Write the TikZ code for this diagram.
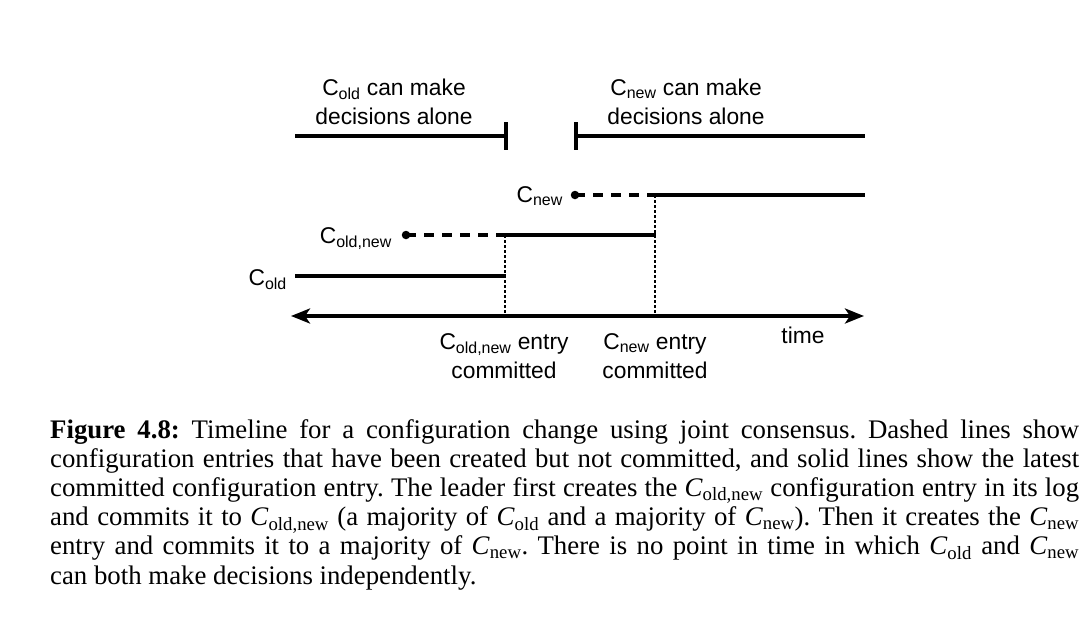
\documentclass[tikz,border=0pt]{standalone}
\usepackage{fontspec}
\usepackage{amsmath}
\setmainfont{Liberation Serif}
\newfontfamily\dsans{Liberation Sans}
\usetikzlibrary{arrows.meta}
\newcommand{\Csub}[1]{C$_{\text{#1}}$}
\newcommand{\Cit}[1]{\textit{C}$_{\text{#1}}$}
\begin{document}
\begin{tikzpicture}[x=1pt,y=-1pt,
  lbl/.style={font=\dsans\fontsize{22.8}{28.5}\selectfont, inner sep=0pt},
  bar/.style={line width=3.3pt},
  dsh/.style={line width=3.3pt, dash pattern=on 10pt off 8pt},
  dtd/.style={line width=2.5pt, dash pattern=on 2.5pt off 2.5pt},
  dotn/.style={circle, fill, inner sep=0pt, minimum size=8.5pt},
  >={Stealth[length=19pt,width=15pt,inset=5pt]},
  ]
\useasboundingbox (0,0) rectangle (1084,632);

% top phase bars (anchor base = last line)
\node[lbl, anchor=base, align=center] (topA) at (394,124) {\Csub{old} can make\\decisions alone};
\node[lbl, anchor=base, align=center] (topB) at (686,124) {\Csub{new} can make\\decisions alone};
\coordinate (a1) at (295,136); \coordinate (a2) at (506,136);
\coordinate (a2t) at (506,122); \coordinate (a2b) at (506,150);
\coordinate (b1) at (576,136); \coordinate (b2) at (865,136);
\coordinate (b1t) at (576,122); \coordinate (b1b) at (576,150);
\draw[bar] (a1) -- (a2);
\draw[bar] (a2t) -- (a2b);
\draw[bar] (b1) -- (b2);
\draw[bar] (b1t) -- (b1b);

% configuration lines
\node[lbl, anchor=base east] (lold) at (287,285) {\Csub{old}};
\node[lbl, anchor=base east] (loldnew) at (392,243) {\Csub{old,new}};
\node[lbl, anchor=base east] (lnew) at (563,202) {\Csub{new}};

\coordinate (o1) at (295,276); \coordinate (o2) at (506,276);
\draw[bar] (o1) -- (o2);

\node[dotn] (don) at (406,235) {};
\coordinate (on1) at (500,235); \coordinate (on2) at (656,235);
\draw[dsh] (don.center) -- (on1);
\draw[bar] (on1) -- (on2);

\node[dotn] (dn) at (575,195) {};
\coordinate (n1) at (650,195); \coordinate (n2) at (865,195);
\draw[dsh] (dn.center) -- (n1);
\draw[bar] (n1) -- (n2);

% time axis
\coordinate (tl) at (291,316); \coordinate (tr) at (864,316);
\draw[line width=3.5pt, <->] (tl) -- (tr);
\coordinate (v1t) at (505,235); \coordinate (v1b) at (505,316);
\coordinate (v2t) at (655,195); \coordinate (v2b) at (655,316);
\draw[dtd] (v1t) -- (v1b);
\draw[dtd] (v2t) -- (v2b);

\node[lbl, anchor=base] (ltime) at (803,343) {time};
\node[lbl, anchor=base, align=center] (cmA) at (504,378) {\Csub{old,new} entry\\committed};
\node[lbl, anchor=base, align=center] (cmB) at (655,378) {\Csub{new} entry\\committed};

% caption
\node[anchor=base west, text width=1029pt, align=justify, inner sep=0pt,
  font=\fontsize{26.8}{29.2}\selectfont] (cap) at (50,438)
{\frenchspacing\tolerance=10000\textbf{Figure 4.8:} Timeline for a configuration change using joint consensus. Dashed lines show\linebreak
configuration entries that have been created but not committed, and solid lines show the latest\linebreak
committed configuration entry. The leader first creates the \Cit{old,new} configuration entry in its log\linebreak
and commits it to \Cit{old,new} (a majority of \Cit{old} and a majority of \Cit{new}). Then it creates the \Cit{new}\linebreak
entry and commits it to a majority of \Cit{new}. There is no point in time in which \Cit{old} and \Cit{new}\linebreak
can both make decisions independently.};
\end{tikzpicture}
\end{document}
